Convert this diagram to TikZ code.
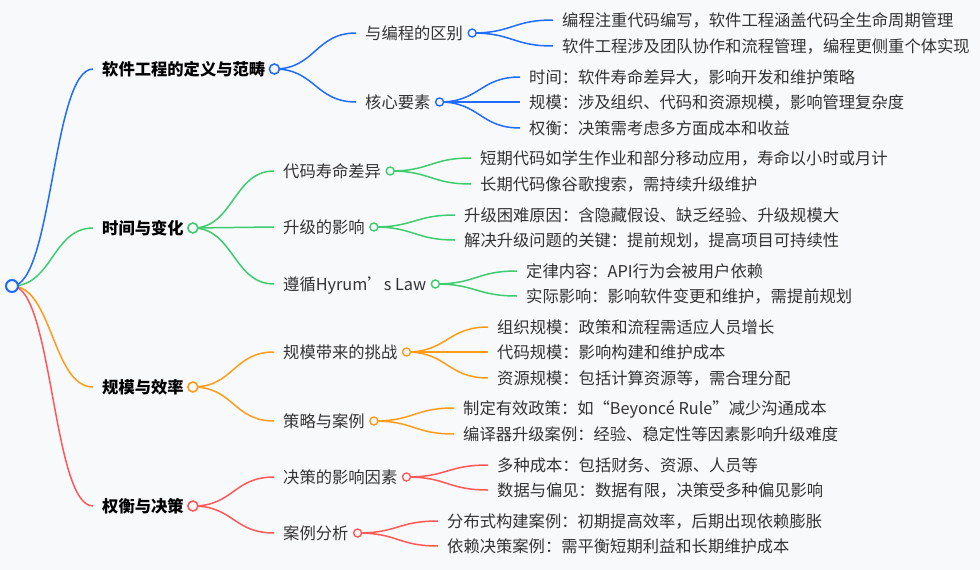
\documentclass[tikz,border=0pt]{standalone}
\usepackage{fontspec}
\setmainfont{Noto Sans CJK SC}
\usetikzlibrary{calc}
\definecolor{bgc}{RGB}{248,249,251}
\definecolor{cblue}{RGB}{31,108,255}
\definecolor{cgreen}{RGB}{62,204,112}
\definecolor{corange}{RGB}{255,156,26}
\definecolor{cred}{RGB}{255,88,88}
\definecolor{txt}{RGB}{51,51,51}

\begin{document}
\begin{tikzpicture}[
  x=1pt, y=-1pt,
  base/.style={anchor=west, inner xsep=9pt, inner ysep=0pt,
    text height=14pt, text depth=2pt,
    font=\fontsize{16.3}{18}\selectfont},
  topic/.style={base, font=\fontsize{16.3}{18}\selectfont\bfseries, text=black},
  sub/.style={base, text=txt},
  leaf/.style={base, text=txt},
  link/.style={line width=1.5pt,
    to path={let \p1=(\tikztostart), \p2=(\tikztotarget) in
      .. controls ({(\x1+\x2)/2},\y1) and ({(\x1+\x2)/2},\y2) .. (\tikztotarget)}},
  dot/.style={draw=#1, fill=bgc, line width=1.6pt},
  knot/.style={dot=#1, line width=1.4pt}
]

\path[use as bounding box, fill=bgc] (0,0) rectangle (980,570);

% Root
\coordinate (root) at (12,286);

% Main topics
\node[topic] (t1) at (93,69)  {软件工程的定义与范畴};
\node[topic] (t2) at (93,228) {时间与变化};
\node[topic] (t3) at (93,387) {规模与效率};
\node[topic] (t4) at (93,506) {权衡与决策};

% Sub topics
\node[sub] (t1a) at (356,33)  {与编程的区别};
\node[sub] (t1b) at (356,102) {核心要素};
\node[sub] (t2a) at (274,171) {代码寿命差异};
\node[sub] (t2b) at (274,227) {升级的影响};
\node[sub] (t2c) at (274,284) {遵循Hyrum’s Law};
\node[sub] (t3a) at (274,352) {规模带来的挑战};
\node[sub] (t3b) at (274,421) {策略与案例};
\node[sub] (t4a) at (274,477) {决策的影响因素};
\node[sub] (t4b) at (274,533) {案例分析};

% Leaves
\node[leaf] (t1a1) at (553,20)  {编程注重代码编写，软件工程涵盖代码全生命周期管理};
\node[leaf] (t1a2) at (553,46)  {软件工程涉及团队协作和流程管理，编程更侧重个体实现};
\node[leaf] (t1b1) at (520,77)  {时间：软件寿命差异大，影响开发和维护策略};
\node[leaf] (t1b2) at (520,102) {规模：涉及组织、代码和资源规模，影响管理复杂度};
\node[leaf] (t1b3) at (520,128) {权衡：决策需考虑多方面成本和收益};
\node[leaf] (t2a1) at (471,158) {短期代码如学生作业和部分移动应用，寿命以小时或月计};
\node[leaf] (t2a2) at (471,184) {长期代码像谷歌搜索，需持续升级维护};
\node[leaf] (t2b1) at (455,215) {升级困难原因：含隐藏假设、缺乏经验、升级规模大};
\node[leaf] (t2b2) at (455,240) {解决升级问题的关键：提前规划，提高项目可持续性};
\node[leaf] (t2c1) at (517,271) {定律内容：API行为会被用户依赖};
\node[leaf] (t2c2) at (517,296) {实际影响：影响软件变更和维护，需提前规划};
\node[leaf] (t3a1) at (488,327) {组织规模：政策和流程需适应人员增长};
\node[leaf] (t3a2) at (488,352) {代码规模：影响构建和维护成本};
\node[leaf] (t3a3) at (488,378) {资源规模：包括计算资源等，需合理分配};
\node[leaf] (t3b1) at (454,408) {制定有效政策：如“Beyoncé Rule”减少沟通成本};
\node[leaf] (t3b2) at (454,434) {编译器升级案例：经验、稳定性等因素影响升级难度};
\node[leaf] (t4a1) at (488,465) {多种成本：包括财务、资源、人员等};
\node[leaf] (t4a2) at (488,490) {数据与偏见：数据有限，决策受多种偏见影响};
\node[leaf] (t4b1) at (438,521) {分布式构建案例：初期提高效率，后期出现依赖膨胀};
\node[leaf] (t4b2) at (438,546) {依赖决策案例：需平衡短期利益和长期维护成本};

% Branches, blue
\draw[link, cblue] (root) to (t1.west);
\draw[link, cblue] (t1.east) to (t1a.west);
\draw[link, cblue] (t1.east) to (t1b.west);
\draw[link, cblue] (t1a.east) to (t1a1.west);
\draw[link, cblue] (t1a.east) to (t1a2.west);
\draw[link, cblue] (t1b.east) to (t1b1.west);
\draw[link, cblue] (t1b.east) to (t1b2.west);
\draw[link, cblue] (t1b.east) to (t1b3.west);

% Branches, green
\draw[link, cgreen] (root) to (t2.west);
\draw[link, cgreen] (t2.east) to (t2a.west);
\draw[link, cgreen] (t2.east) to (t2b.west);
\draw[link, cgreen] (t2.east) to (t2c.west);
\draw[link, cgreen] (t2a.east) to (t2a1.west);
\draw[link, cgreen] (t2a.east) to (t2a2.west);
\draw[link, cgreen] (t2b.east) to (t2b1.west);
\draw[link, cgreen] (t2b.east) to (t2b2.west);
\draw[link, cgreen] (t2c.east) to (t2c1.west);
\draw[link, cgreen] (t2c.east) to (t2c2.west);

% Branches, orange
\draw[link, corange] (root) to (t3.west);
\draw[link, corange] (t3.east) to (t3a.west);
\draw[link, corange] (t3.east) to (t3b.west);
\draw[link, corange] (t3a.east) to (t3a1.west);
\draw[link, corange] (t3a.east) to (t3a2.west);
\draw[link, corange] (t3a.east) to (t3a3.west);
\draw[link, corange] (t3b.east) to (t3b1.west);
\draw[link, corange] (t3b.east) to (t3b2.west);

% Branches, red
\draw[link, cred] (root) to (t4.west);
\draw[link, cred] (t4.east) to (t4a.west);
\draw[link, cred] (t4.east) to (t4b.west);
\draw[link, cred] (t4a.east) to (t4a1.west);
\draw[link, cred] (t4a.east) to (t4a2.west);
\draw[link, cred] (t4b.east) to (t4b1.west);
\draw[link, cred] (t4b.east) to (t4b2.west);

% Knots
\draw[dot=cblue, line width=2pt] (root) circle (6pt);
\draw[dot=cblue] (t1.east) circle (5pt);
\draw[dot=cgreen] (t2.east) circle (5pt);
\draw[dot=corange] (t3.east) circle (5pt);
\draw[dot=cred] (t4.east) circle (5pt);
\draw[knot=cblue] (t1a.east) circle (4pt);
\draw[knot=cblue] (t1b.east) circle (4pt);
\draw[knot=cgreen] (t2a.east) circle (4pt);
\draw[knot=cgreen] (t2b.east) circle (4pt);
\draw[knot=cgreen] (t2c.east) circle (4pt);
\draw[knot=corange] (t3a.east) circle (4pt);
\draw[knot=corange] (t3b.east) circle (4pt);
\draw[knot=cred] (t4a.east) circle (4pt);
\draw[knot=cred] (t4b.east) circle (4pt);

\end{tikzpicture}
\end{document}
